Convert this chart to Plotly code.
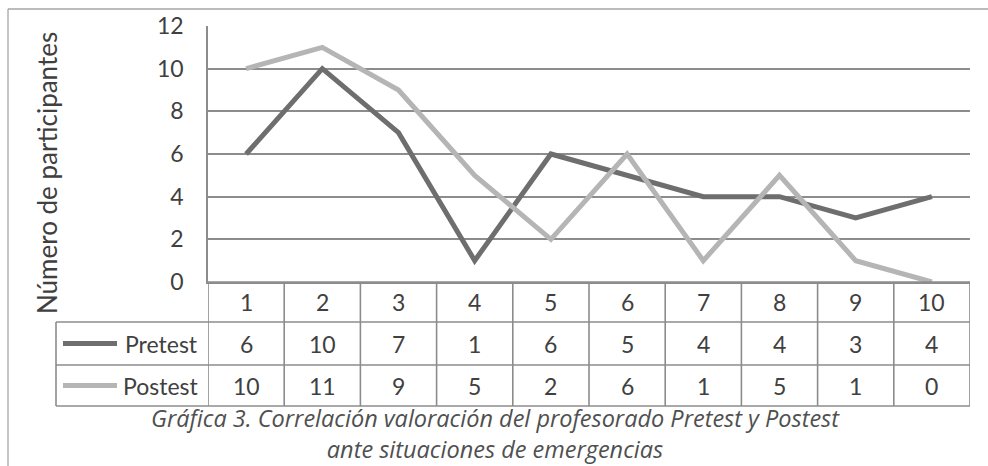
import plotly.graph_objects as go

# Data
categories = [1, 2, 3, 4, 5, 6, 7, 8, 9, 10]
pretest = [6, 10, 7, 1, 6, 5, 4, 4, 3, 4]
postest = [10, 11, 9, 5, 2, 6, 1, 5, 1, 0]
series_names = ["Pretest", "Postest"]
y_ticks = [0, 2, 4, 6, 8, 10, 12]
axis_title = "Número de participantes"
caption_lines = [
    "Gráfica 3. Correlación valoración del profesorado Pretest y Postest",
    "ante situaciones de emergencias",
]

W, H = 988, 466
FONT = "Lato"
TEXT = "#404040"
GRID = "#8c8c8c"
COLORS = ["#6e6e6e", "#b5b5b5"]
TABLE_SIZE = 23


def fx(px):
    return px / W


def fy(py):
    return 1 - py / H


fig = go.Figure()
for name, vals, col in zip(series_names, [pretest, postest], COLORS):
    fig.add_trace(go.Scatter(
        x=categories, y=vals, name=name, mode="lines",
        line=dict(color=col, width=5), cliponaxis=False,
    ))

plot_left, plot_right, plot_top, plot_bottom = 208, 970, 26, 282
row_lines = [282, 322, 365, 406]
legend_left = 56

shapes = []
# column dividers of the data table, on category boundaries
for k in range(len(categories) + 1):
    shapes.append(dict(type="line", xref="x", yref="paper",
                       x0=k + 0.5, x1=k + 0.5,
                       y0=fy(row_lines[0]), y1=fy(row_lines[-1]),
                       line=dict(color=GRID, width=1.6)))
# horizontal rules of the data table
for i, r in enumerate(row_lines):
    x0 = fx(plot_left) if i == 0 else fx(legend_left)
    shapes.append(dict(type="line", xref="paper", yref="paper",
                       x0=x0, x1=fx(plot_right), y0=fy(r), y1=fy(r),
                       line=dict(color=GRID, width=1.6)))
# left edge of the series-name column
shapes.append(dict(type="line", xref="paper", yref="paper",
                   x0=fx(legend_left), x1=fx(legend_left),
                   y0=fy(row_lines[1]), y1=fy(row_lines[-1]),
                   line=dict(color=GRID, width=1.6)))
# outer chart frame
shapes.append(dict(type="line", xref="paper", yref="paper",
                   x0=fx(8), x1=1, y0=fy(9), y1=fy(9),
                   line=dict(color="#a6a6a6", width=1.3)))
shapes.append(dict(type="line", xref="paper", yref="paper",
                   x0=fx(8), x1=fx(8), y0=fy(9), y1=0,
                   line=dict(color="#a6a6a6", width=1.3)))

annotations = []
# header row: category labels
hdr_y = fy((row_lines[0] + row_lines[1]) / 2)
for c in categories:
    annotations.append(dict(x=c, y=hdr_y, xref="x", yref="paper",
                            text=str(c), showarrow=False, yanchor="middle",
                            font=dict(family=FONT, size=TABLE_SIZE, color=TEXT)))
# value rows, each with its legend key
for i, (name, vals, col) in enumerate(zip(series_names, [pretest, postest], COLORS)):
    yc = fy((row_lines[i + 1] + row_lines[i + 2]) / 2)
    for c, v in zip(categories, vals):
        annotations.append(dict(x=c, y=yc, xref="x", yref="paper",
                                text=str(v), showarrow=False, yanchor="middle",
                                font=dict(family=FONT, size=TABLE_SIZE, color=TEXT)))
    annotations.append(dict(x=fx(200), y=yc, xref="paper", yref="paper",
                            xanchor="right", yanchor="middle", text=name,
                            showarrow=False,
                            font=dict(family=FONT, size=TABLE_SIZE, color=TEXT)))
    shapes.append(dict(type="line", xref="paper", yref="paper",
                       x0=fx(63), x1=fx(117), y0=yc, y1=yc,
                       line=dict(color=col, width=5)))

# y axis title
annotations.append(dict(x=fx(29), y=fy(173), xref="paper", yref="paper",
                        text=axis_title, textangle=-90,
                        showarrow=False,
                        font=dict(family=FONT, size=26, color=TEXT)))
# two-line caption below the table
annotations.append(dict(x=fx(496), y=fy(433), xref="paper", yref="paper",
                        text="<i>" + "<br>".join(caption_lines) + "</i>",
                        showarrow=False, yanchor="middle",
                        font=dict(family="Open Sans", size=23.5, color="#505050")))

fig.update_layout(
    width=W, height=H, autosize=False,
    margin=dict(l=0, r=0, t=0, b=0, pad=0),
    paper_bgcolor="white", plot_bgcolor="white",
    showlegend=False,
    xaxis=dict(domain=[fx(plot_left), fx(plot_right)], range=[0.5, 10.5],
               showgrid=False, showticklabels=False, zeroline=False,
               showline=True, linecolor=GRID, linewidth=1.6, fixedrange=True,
               automargin=False),
    yaxis=dict(domain=[fy(plot_bottom), fy(plot_top)], range=[0, 12],
               tickvals=y_ticks, showgrid=True, gridcolor=GRID, gridwidth=1.6,
               zeroline=False, showline=True, linecolor=GRID, linewidth=1.6,
               ticks="", ticklabelstandoff=18, automargin=False,
               tickfont=dict(family=FONT, size=23, color=TEXT), fixedrange=True),
    shapes=shapes,
    annotations=annotations,
)

fig.write_html("out.html", config={"responsive": False, "displayModeBar": False})
